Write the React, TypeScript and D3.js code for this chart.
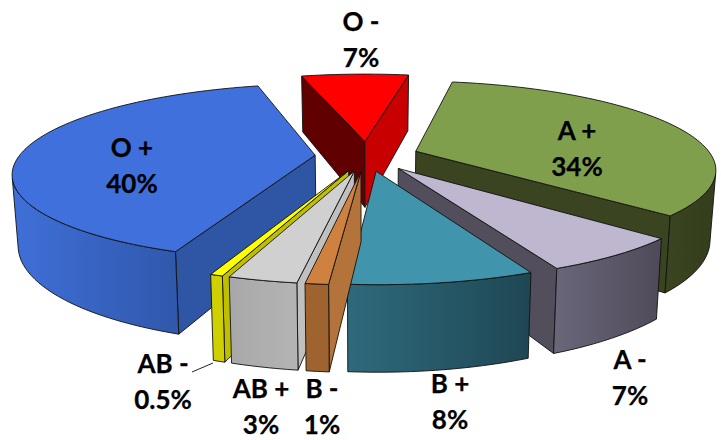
import React from "react";
import * as d3 from "d3";

const categories = ["A +", "A -", "B +", "B -", "AB +", "AB -", "O +", "O -"];
const percentLabels = ["34%", "7%", "8%", "1%", "3%", "0.5%", "40%", "7%"];
const values = [34.1, 6.5, 8.05, 1.0, 3.0, 0.55, 40.15, 7.1];
const topColors = ["#809f4c", "#bfb6d0", "#4094ac", "#cf823f", "#d0d0d0", "#ffff00", "#3f70dc", "#ff0000"];
const startWallColors = ["#3a4420", "#524e5c", "#2d6a7c", "#b4733a", "#c0c0c0", "#bfbf00", "#2f55a5", "#600000"];
const endWallColors = ["#3a4420", "#524e5c", "#2d6a7c", "#b4733a", "#c0c0c0", "#bfbf00", "#2f55a5", "#c80000"];
const wallLeftColors = ["#3a4420", "#6a667a", "#2e6a7c", "#9e632f", "#a8a8a8", "#d0d000", "#3f70d8", "#c80000"];
const wallRightColors = ["#343d1c", "#4e4a58", "#1f4753", "#9e632f", "#b4b4b4", "#d0d000", "#3058ac", "#c80000"];

const labelX = [577, 630, 450, 322, 261, 163, 132, 361];
const labelY = [131, 360, 384, 389, 389, 364, 148, 22];
const labelGap = 36;

const W = 721, H = 440;
const cx = 367, cy = 156;
const radius = 296, explode = 52, depth = 68;
const tilt = 0.288, persp = 1557, converge = 0.00025;
const deg = Math.PI / 180;

type P = [number, number];
const project = (X: number, Z: number, drop: number): P => {
  const s = 1 / (1 + Z / persp);
  return [cx + X * s * (1 - drop * converge), cy - tilt * Z * s + drop * s];
};

const area = (pts: P[]) => {
  let a = 0;
  pts.forEach((p, i) => {
    const q = pts[(i + 1) % pts.length];
    a += p[0] * q[1] - q[0] * p[1];
  });
  return a;
};
const line = d3.line<P>().x(d => d[0]).y(d => d[1]);
const closed = (pts: P[]) => line(pts) + "Z";

const pie = d3.pie<number>().sort(null).startAngle(10.3 * deg).endAngle(370.3 * deg);
const arcs = pie(values);

const slices = arcs.map((a, i) => {
  const mid = (a.startAngle + a.endAngle) / 2;
  const ox = explode * Math.sin(mid), oz = explode * Math.cos(mid);
  const n = Math.max(2, Math.ceil((a.endAngle - a.startAngle) / (2 * deg)));
  const angles = d3.range(n + 1).map(k => a.startAngle + ((a.endAngle - a.startAngle) * k) / n);
  const rimAt = (t: number, drop: number) =>
    project(ox + radius * Math.sin(t), oz + radius * Math.cos(t), drop);
  const top = angles.map(t => rimAt(t, 0));
  const bot = angles.map(t => rimAt(t, depth));
  const apexT = project(ox, oz, 0), apexB = project(ox, oz, depth);
  const startWall: P[] = [apexT, top[0], bot[0], apexB];
  const endWall: P[] = [apexT, top[n], bot[n], apexB];
  const outer: { t: P[]; b: P[] }[] = [];
  let run: { t: P[]; b: P[] } | null = null;
  for (let k = 0; k < n; k++) {
    const vis = area([top[k], top[k + 1], bot[k + 1], bot[k]]) < 0;
    if (vis) {
      if (!run) { run = { t: [top[k]], b: [bot[k]] }; outer.push(run); }
      run.t.push(top[k + 1]); run.b.push(bot[k + 1]);
    } else run = null;
  }
  const xs = outer.flatMap(r => r.t.map(p => p[0]));
  return {
    i, oz, apexT, top, startWall, endWall, outer,
    showStart: area(startWall) < 0,
    showEnd: area(endWall) > 0,
    x0: xs.length ? d3.min(xs)! : 0,
    x1: xs.length ? d3.max(xs)! : 1,
  };
});
const ordered = [...slices].sort((a, b) => b.oz - a.oz);

export default function App() {
  const edge = { stroke: "#111", strokeWidth: 0.9, strokeLinejoin: "round" as const };
  return (
    <svg width={W} height={H} viewBox={`0 0 ${W} ${H}`} style={{ position: "absolute", left: 0, top: 0 }}>
      <defs>
        {slices.map(s => (
          <linearGradient key={s.i} id={`wall${s.i}`} gradientUnits="userSpaceOnUse" x1={s.x0} x2={s.x1} y1={0} y2={0}>
            <stop offset="0%" stopColor={wallLeftColors[s.i]} />
            <stop offset="100%" stopColor={wallRightColors[s.i]} />
          </linearGradient>
        ))}
      </defs>
      {ordered.map(s => (
        <g key={s.i}>
          {s.showStart && <path d={closed(s.startWall)} fill={startWallColors[s.i]} {...edge} />}
          {s.showEnd && <path d={closed(s.endWall)} fill={endWallColors[s.i]} {...edge} />}
          {s.outer.map((r, k) => (
            <path key={k} d={closed([...r.t, ...[...r.b].reverse()])} fill={`url(#wall${s.i})`} {...edge} />
          ))}
          <path d={closed([s.apexT, ...s.top])} fill={topColors[s.i]} {...edge} />
        </g>
      ))}
      <path d={line([[213, 363], [192, 372]] as P[])!} fill="none" stroke="#222" strokeWidth={1} />
      {categories.map((c, i) => (
        <text key={c} textAnchor="middle" fontFamily="Lato, 'Open Sans', sans-serif" fontWeight={700} fontSize={26} fill="#000" stroke="#000" strokeWidth={0.25}>
          <tspan x={labelX[i]} y={labelY[i] + 9}>{c}</tspan>
          <tspan x={labelX[i]} y={labelY[i] + labelGap + 9}>{percentLabels[i]}</tspan>
        </text>
      ))}
    </svg>
  );
}
